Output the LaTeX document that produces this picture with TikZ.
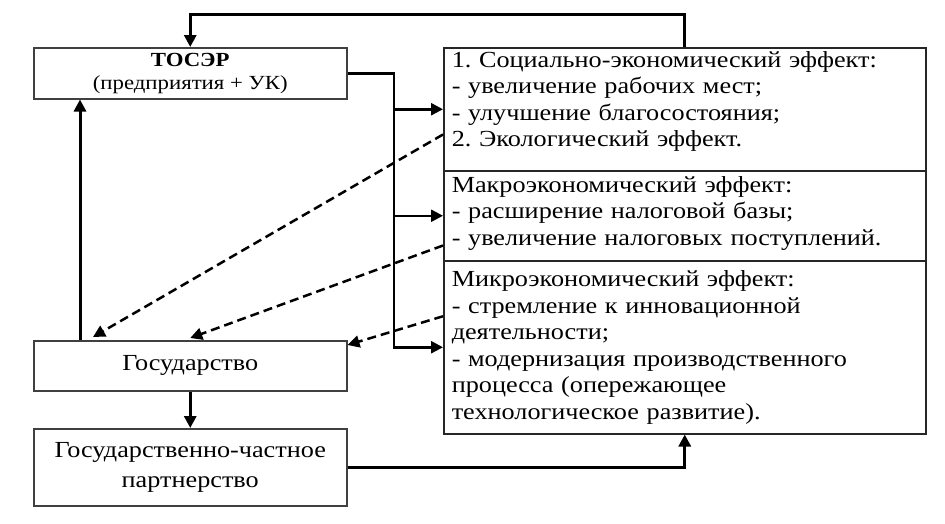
\documentclass[tikz,border=0pt]{standalone}
\usepackage{fontspec}
\setmainfont[FakeStretch=1.14]{Liberation Serif}
\usetikzlibrary{arrows.meta,positioning}
\frenchspacing

\tikzset{
  box/.style={draw=black!75, line width=1.5pt, anchor=north west,
    minimum width=313pt, align=center, inner sep=0pt,
    font=\fontsize{23}{30}\selectfont},
  effbox/.style={draw=black!85, line width=1.5pt, anchor=north west,
    text width=466pt, minimum width=482pt, inner xsep=8pt, align=left,
    font=\fontsize{23}{26.5}\selectfont},
  arr/.style={line width=3pt, -{Triangle[length=12pt,width=12pt]}},
  dasharr/.style={line width=2.5pt, dash pattern=on 9pt off 5pt,
    -{Triangle[length=12pt,width=12pt]}},
}

\begin{document}
\begin{tikzpicture}[x=1pt,y=-1pt]
    \useasboundingbox (0,0) rectangle (945,523);
    % left column
    \node[box, minimum height=51pt, font=\fontsize{20}{23}\selectfont] (toser) at (33,47)
        {\textbf{ТОСЭР}\\(предприятия + УК)};
    \node[box, minimum height=50pt] (gos) at (33,340) {Государство};
    \node[box, minimum height=77pt] (gchp) at (33,428) {Государственно-частное\\партнерство};
    % effects
    \node[effbox, minimum height=123pt] (soc) at (443,47)
        {1. Социально-экономический эффект:\\- увеличение рабочих мест;\\- улучшение благосостояния;\\2. Экологический эффект.\rule[-20pt]{0pt}{20pt}};
    \node[effbox, minimum height=90pt] (macro) at (443,170)
        {Макроэкономический эффект:\\- расширение налоговой базы;\\- увеличение налоговых поступлений.\rule[-10pt]{0pt}{10pt}};
    \node[effbox, minimum height=173pt] (micro) at (443,260)
        {Микроэкономический эффект:\\- стремление к инновационной\\деятельности;\\- модернизация производственного\\процесса (опережающее\\технологическое развитие).};
    % connectors
    \coordinate (bus) at (394,0);
    \coordinate (lft) at (80,0);
    \draw[arr] (soc.north) -- ++(0,-33) -| (toser.north);
    \draw[line width=2.5pt, -{Triangle[length=12pt,width=12pt]}] (toser.east) -| (bus |- micro.west) -- (micro.west);
    \foreach \n in {soc,macro}
        \draw[line width=2.5pt, -{Triangle[length=12pt,width=12pt]}] (bus |- \n.west) -- (\n.west);
    \draw[arr] (gos.north -| lft) -- (toser.south -| lft);
    \draw[dasharr] ([yshift=37pt]soc.south west) -- ([xshift=60pt,yshift=3pt]gos.north west);
    \draw[dasharr] ([yshift=16pt]macro.south west) -- ([yshift=2pt]gos.north);
    \draw[dasharr] ([yshift=31pt]micro.west) -- ([yshift=-5pt]gos.north east);
    \draw[arr] (gos.south) -- (gchp.north);
    \draw[arr] (gchp.east) -| (micro.south);
\end{tikzpicture}
\end{document}
